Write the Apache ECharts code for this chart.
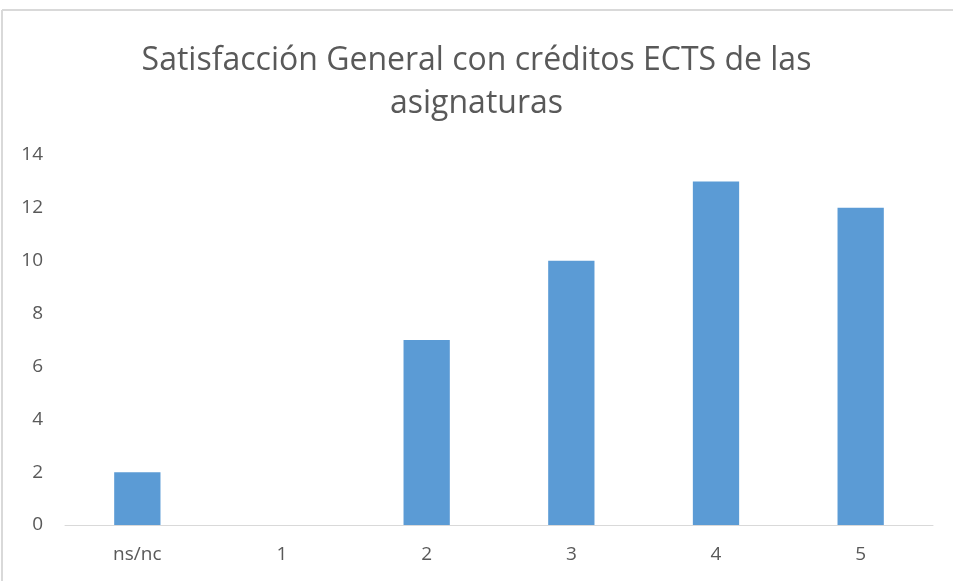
<!DOCTYPE html>
<html>
<head>
<meta charset="utf-8">
<script src="https://cdn.jsdelivr.net/npm/echarts@6/dist/echarts.min.js"></script>
<style>
  html, body { margin: 0; padding: 0; background: #fff; }
  #chart { width: 953px; height: 581px; }
</style>
</head>
<body>
<div id="chart"></div>
<script>
// data
var categories = ["ns/nc", "1", "2", "3", "4", "5"];
var values = [2, 0, 7, 10, 13, 12];
var chartTitle = "Satisfacción General con créditos ECTS de las\nasignaturas";

var textColor = "#595959";
var myChart = echarts.init(document.getElementById("chart"));

var option = {
  backgroundColor: "#ffffff",
  animation: false,
  title: {
    text: chartTitle,
    left: "center",
    top: 34,
    textStyle: {
      fontFamily: "Open Sans",
      fontWeight: 400,
      fontSize: 32,
      lineHeight: 43,
      color: textColor,
    },
  },
  graphic: [
    { type: "line", shape: { x1: 2, y1: 10, x2: 953, y2: 10 }, style: { stroke: "#d9d9d9", lineWidth: 2 } },
    { type: "line", shape: { x1: 2, y1: 10, x2: 2, y2: 581 }, style: { stroke: "#d9d9d9", lineWidth: 2 } },
  ],
  grid: {
    left: 65,
    right: 20,
    top: 155,
    bottom: 56,
  },
  xAxis: {
    type: "category",
    data: categories,
    axisTick: { show: false },
    axisLine: { lineStyle: { color: "#d9d9d9", width: 1 } },
    axisLabel: {
      color: textColor,
      fontFamily: "Open Sans",
      fontSize: 19,
      margin: 20,
    },
  },
  yAxis: {
    type: "value",
    min: 0,
    max: 14,
    interval: 2,
    splitLine: { show: false },
    axisLine: { show: false },
    axisTick: { show: false },
    axisLabel: {
      color: textColor,
      fontFamily: "Open Sans",
      fontSize: 19,
      margin: 22,
    },
  },
  series: [
    {
      type: "bar",
      data: values,
      barWidth: "32%",
      itemStyle: { color: "#5b9bd5" },
    },
  ],
};

myChart.setOption(option);
</script>
</body>
</html>
